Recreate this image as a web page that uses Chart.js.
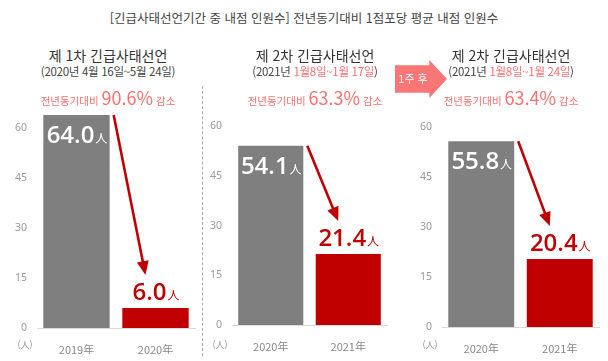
<!DOCTYPE html>
<html lang="ko">
<head>
<meta charset="UTF-8">
<title>긴급사태선언기간 중 내점 인원수</title>
<script src="https://cdn.jsdelivr.net/npm/chart.js"></script>
<style>
  body { margin: 0; background: #fff; font-family: "Noto Sans CJK KR", "Noto Sans", sans-serif; }
  #wrap { position: relative; width: 608px; height: 361px; overflow: hidden; }
  .txt { position: absolute; white-space: nowrap; transform: translate(-50%, -50%); color: #333; z-index: 2; line-height: 1; }
  canvas { position: absolute; z-index: 1; }
  .pink { color: #fa7070; }
  #sep { position: absolute; left: 202px; top: 86px; height: 270px; border-left: 1px dashed #aaa; }
  #week { position: absolute; left: 395px; top: 60px; width: 52px; height: 38px; background: #f87676;
          clip-path: polygon(0 14%, 66% 14%, 66% 0, 100% 50%, 66% 100%, 66% 86%, 0 86%); z-index: 2; }
  #weekTxt { position: absolute; left: 413px; top: 78px; color: #fff; font-size: 11px; }
</style>
</head>
<body>
<div id="wrap">
  <div class="txt" style="left:304px; top:18px; font-size:12.5px; color:#444;">[긴급사태선언기간 중 내점 인원수] 전년동기대비 1점포당 평균 내점 인원수</div>
  <div id="sep"></div>
  <div id="week"></div>
  <div class="txt" id="weekTxt">1주 후</div>
</div>

<script>
  // data
  const panelTitles = ['제 1차 긴급사태선언', '제 2차 긴급사태선언', '제 2차 긴급사태선언'];
  const periodStart = ['(2020년 ', '(2021년 ', '(2021년 '];
  const periodRange = ['4월 16일~5월 24일', '1월8일~1월 17일', '1월8일~1월 24일'];
  const rangeHighlight = [false, true, true];
  const reductions = ['90.6%', '63.3%', '63.4%'];
  const categories = [['2019年', '2020年'], ['2020年', '2021年'], ['2020年', '2021年']];
  const beforeValues = [64.0, 54.1, 55.8];
  const afterValues = [6.0, 21.4, 20.4];
  const yTicks = [0, 15, 30, 45, 60];
  const unit = '人';

  const wrap = document.getElementById('wrap');

  // panel placement: plot left/right, top of chart area and y of 0
  const panels = [
    { cx: 108, left: 37, right: 195, top: 95, bottom: 328 },
    { cx: 315, left: 232, right: 387, top: 93, bottom: 325 },
    { cx: 511, left: 442, right: 599, top: 94, bottom: 327 }
  ];

  function addText(html, x, y, style) {
    const d = document.createElement('div');
    d.className = 'txt';
    d.style.left = x + 'px';
    d.style.top = y + 'px';
    d.style.cssText += style;
    d.innerHTML = html;
    wrap.appendChild(d);
  }

  const labelPlugin = {
    id: 'barLabels',
    afterDatasetsDraw(chart) {
      const ctx = chart.ctx;
      const bars = chart.getDatasetMeta(0).data;
      const vals = chart.data.datasets[0].data;
      const numFont = '600 24px "Open Sans", "Noto Sans", sans-serif';
      const unitFont = '12px "Noto Sans CJK KR", sans-serif';
      ctx.save();
      bars.forEach((bar, i) => {
        const num = vals[i].toFixed(1);
        ctx.font = numFont;
        const w1 = ctx.measureText(num).width;
        ctx.font = unitFont;
        const w2 = ctx.measureText(unit).width;
        const x0 = bar.x - (w1 + w2) / 2;
        const base = i === 0 ? bar.y + 28 : bar.y - 8;
        ctx.fillStyle = i === 0 ? '#ffffff' : '#c00000';
        ctx.textBaseline = 'alphabetic';
        ctx.textAlign = 'left';
        ctx.font = numFont;
        ctx.fillText(num, x0, base);
        ctx.font = unitFont;
        ctx.fillText(unit, x0 + w1 + 1, base);
      });

      // red arrow from first bar top to above second bar
      const b0 = bars[0], b1 = bars[1];
      const sx = b0.x + b0.width / 2 + 4, sy = b0.y;
      const ex = b1.x - 10, ey = b1.y - 33;
      const ang = Math.atan2(ey - sy, ex - sx);
      const hl = 14, hw = 6;
      ctx.strokeStyle = '#c00000';
      ctx.fillStyle = '#c00000';
      ctx.lineWidth = 2.6;
      ctx.beginPath();
      ctx.moveTo(sx, sy);
      ctx.lineTo(ex - Math.cos(ang) * hl * 0.8, ey - Math.sin(ang) * hl * 0.8);
      ctx.stroke();
      ctx.beginPath();
      ctx.moveTo(ex, ey);
      ctx.lineTo(ex - Math.cos(ang) * hl - Math.sin(ang) * hw, ey - Math.sin(ang) * hl + Math.cos(ang) * hw);
      ctx.lineTo(ex - Math.cos(ang) * hl + Math.sin(ang) * hw, ey - Math.sin(ang) * hl - Math.cos(ang) * hw);
      ctx.closePath();
      ctx.fill();
      ctx.restore();
    }
  };

  panels.forEach((p, k) => {
    // header texts
    addText(panelTitles[k], p.cx, 55, 'font-size:14px; color:#333;');
    const range = rangeHighlight[k] ? '<span class="pink">' + periodRange[k] + '</span>' : periodRange[k];
    addText(periodStart[k] + range + ')', p.cx, 72, 'font-size:11.5px; color:#444; letter-spacing:-0.3px;');
    addText('<span style="font-size:10.5px">전년동기대비 </span><span style="font-size:18px">' + reductions[k] +
      '</span><span style="font-size:10.5px"> 감소</span>', p.cx, 97, 'color:#fa7070;');
    addText('(人)', p.left - 12, 344, 'font-size:9px; color:#999;');

    const axisW = 30, padTop = 5, xAxisH = 26, padRight = 4;
    const canvas = document.createElement('canvas');
    canvas.width = axisW + (p.right - p.left) + padRight;
    canvas.height = padTop + (p.bottom - p.top) + xAxisH;
    canvas.style.left = (p.left - axisW) + 'px';
    canvas.style.top = (p.top - padTop) + 'px';
    wrap.appendChild(canvas);

    new Chart(canvas, {
      type: 'bar',
      data: {
        labels: categories[k],
        datasets: [{
          data: [beforeValues[k], afterValues[k]],
          backgroundColor: ['#7f7f7f', '#c00000'],
          categoryPercentage: 1,
          barPercentage: 0.84
        }]
      },
      plugins: [labelPlugin],
      options: {
        responsive: false,
        animation: false,
        layout: { padding: { top: padTop, right: padRight, left: 0, bottom: 0 } },
        plugins: { legend: { display: false }, tooltip: { enabled: false } },
        scales: {
          x: {
            grid: { display: false },
            border: { color: '#d9d9d9' },
            ticks: { color: '#888', font: { size: 11, family: '"Noto Sans CJK KR", sans-serif' }, padding: 7 },
            afterFit: s => { s.height = xAxisH; }
          },
          y: {
            min: 0,
            max: 70,
            grid: { display: false, drawTicks: false },
            border: { display: false },
            afterBuildTicks: s => { s.ticks = yTicks.map(v => ({ value: v })); },
            ticks: { color: '#999', font: { size: 10.5, family: '"Noto Sans", sans-serif' }, padding: 10 },
            // drop the label overhang so the plot keeps its set height
            afterFit: s => { s.width = axisW; s.paddingTop = 0; s.paddingBottom = 0; }
          }
        }
      }
    });
  });
</script>
</body>
</html>
